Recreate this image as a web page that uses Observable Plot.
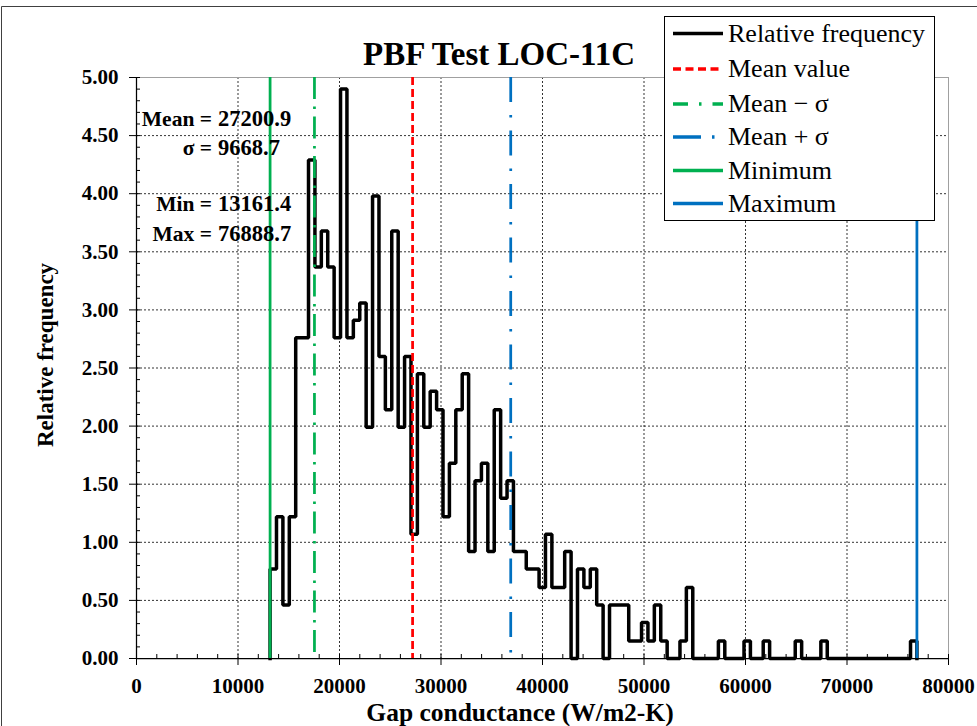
<!DOCTYPE html>
<html>
<head>
<meta charset="utf-8">
<script src="https://cdn.jsdelivr.net/npm/d3@7"></script>
<script src="https://cdn.jsdelivr.net/npm/@observablehq/plot@0.6"></script>
<style>
  body { margin: 0; background: #fff; }
  #wrap { position: relative; width: 977px; height: 726px; overflow: hidden; background: #fff; }
</style>
</head>
<body>
<div id="wrap"></div>
<script>
// ---------------- data ----------------
const chartTitle = "PBF Test LOC-11C";
const xTitle = "Gap conductance (W/m2-K)";
const yTitle = "Relative frequency";

const meanValue = 27200.9;
const sigmaValue = 9668.7;
const minValue = 13161.4;
const maxValue = 76888.7;

// relative frequency of each of the equal-width bins between min and max
const binValues = [
  0.77, 1.22, 0.46, 1.22, 2.76, 2.76, 4.29, 3.37, 3.68, 3.37,
  2.76, 4.90, 2.76, 2.91, 3.06, 1.99, 3.98, 2.60, 2.14, 3.68,
  1.99, 2.60, 1.07, 2.45, 1.99, 2.30, 2.14, 1.22, 1.68, 2.14,
  2.45, 0.92, 1.53, 1.68, 0.92, 2.14, 1.38, 1.53, 0.92, 0.92,
  0.77, 0.77, 0.61, 1.07, 0.61, 0.61, 0.92, 0.00, 0.77, 0.61,
  0.77, 0.46, 0.00, 0.46, 0.46, 0.46, 0.15, 0.15, 0.31, 0.15,
  0.46, 0.15, 0.00, 0.00, 0.15, 0.61, 0.00, 0.00, 0.00, 0.00,
  0.15, 0.00, 0.00, 0.00, 0.15, 0.00, 0.00, 0.15, 0.00, 0.00,
  0.00, 0.00, 0.15, 0.00, 0.00, 0.00, 0.15, 0.00, 0.00, 0.00,
  0.00, 0.00, 0.00, 0.00, 0.00, 0.00, 0.00, 0.00, 0.00, 0.00,
  0.15
];

const xTicks = [0, 10000, 20000, 30000, 40000, 50000, 60000, 70000, 80000];
const yTicks = [0, 0.5, 1, 1.5, 2, 2.5, 3, 3.5, 4, 4.5, 5];
const xMinorTicks = d3.range(0, 80001, 2000);
const yMinorTicks = d3.range(0, 50.5, 1).map(d => d / 10);

// statistics box: label part and value part
const annLabels = ["Mean =", "\u03c3 =", "Min =", "Max ="];
const annValues = ["27200.9", " 9668.7", " 13161.4", " 76888.7"];

const legendLabels = ["Relative frequency", "Mean value", "Mean \u2212 \u03c3", "Mean + \u03c3", "Minimum", "Maximum"];

// ---------------- styles ----------------
const RED = "#ff0000", GREEN = "#00b050", BLUE = "#0070c0";
const SERIF = "'Liberation Serif', 'Times New Roman', serif";

// step outline built from the bins
const binWidth = (maxValue - minValue) / binValues.length;
const stepPoints = [{x: minValue, y: 0}];
binValues.forEach((v, i) => {
  stepPoints.push({x: minValue + i * binWidth, y: v});
  stepPoints.push({x: minValue + (i + 1) * binWidth, y: v});
});
stepPoints.push({x: maxValue, y: 0});

const refLines = [
  {x: minValue, stroke: GREEN, dash: null},
  {x: meanValue - sigmaValue, stroke: GREEN, dash: "22,7.5,2.5,7.5"},
  {x: meanValue, stroke: RED, dash: "8,4"},
  {x: meanValue + sigmaValue, stroke: BLUE, dash: "25,13,2.5,13"},
  {x: maxValue, stroke: BLUE, dash: null}
];

const chart = Plot.plot({
  width: 977,
  height: 726,
  marginLeft: 136,
  marginRight: 29,
  marginTop: 77,
  marginBottom: 68,
  style: {fontFamily: SERIF, background: "transparent", color: "#000", overflow: "visible"},
  x: {domain: [0, 80000]},
  y: {domain: [0, 5]},
  marks: [
    Plot.gridX(xTicks.slice(1, -1), {stroke: "#000", strokeOpacity: 0.8, strokeDasharray: "2,2"}),
    Plot.gridY(yTicks.slice(1, -1), {stroke: "#000", strokeOpacity: 0.8, strokeDasharray: "2,2"}),
    Plot.frame({stroke: "#a0a0a0"}),
    Plot.line(stepPoints, {x: "x", y: "y", stroke: "#000", strokeWidth: 3.5, strokeLinejoin: "miter", strokeLinecap: "square"}),
    ...refLines.map(r => Plot.ruleX([r.x], {stroke: r.stroke, strokeWidth: 2.75, strokeDasharray: r.dash})),
    Plot.ruleX([0], {stroke: "#000", strokeWidth: 1.25}),
    Plot.ruleY([0], {stroke: "#000", strokeWidth: 1.25}),
    Plot.axisX(xTicks, {tickSize: 7, tickPadding: 13, tickFormat: d3.format("d"), fontSize: 21, fontWeight: "bold", label: null}),
    Plot.axisX(xMinorTicks, {tickSize: -4, tickFormat: () => "", label: null}),
    Plot.axisY(yTicks, {tickSize: 7, tickPadding: 11, tickFormat: d3.format(".2f"), fontSize: 21, fontWeight: "bold", label: null}),
    Plot.axisY(yMinorTicks, {tickSize: -4, tickFormat: () => "", label: null})
  ]
});

document.getElementById("wrap").appendChild(chart);
const svg = d3.select(chart);

// outer chart-area border (left and top)
svg.append("line").attr("x1", 1.5).attr("y1", 6.5).attr("x2", 977).attr("y2", 6.5).attr("stroke", "#404040");
svg.append("line").attr("x1", 1.5).attr("y1", 6.5).attr("x2", 1.5).attr("y2", 726).attr("stroke", "#404040");

function addText(parent, t, x, y, size, weight, anchor) {
  return parent.append("text").text(t).attr("x", x).attr("y", y)
    .attr("text-anchor", anchor)
    .style("font-family", SERIF).style("font-weight", weight).style("font-size", size + "px")
    .style("white-space", "pre").attr("fill", "#000");
}

// titles
addText(svg, chartTitle, 499, 65, 33, "bold", "middle");
addText(svg, xTitle, 520, 721, 25.5, "bold", "middle");
svg.append("text").text(yTitle)
  .attr("transform", "translate(53,355) rotate(-90)").attr("text-anchor", "middle")
  .style("font-family", SERIF).style("font-weight", "bold").style("font-size", "23px").attr("fill", "#000");

// statistics annotations: label right-aligned, value starting at a common column
const annY = [126, 155, 210.5, 240.5];
annLabels.forEach((lab, i) => {
  const t = svg.append("text")
    .style("font-family", SERIF).style("font-weight", "bold")
    .style("white-space", "pre").attr("fill", "#000").attr("y", annY[i]);
  t.append("tspan").attr("x", 212).attr("text-anchor", "end").style("font-size", "21.5px").text(lab);
  t.append("tspan").attr("x", annValues[i].startsWith(" ") ? 212.4 : 218).attr("text-anchor", "start")
    .style("font-size", "22.5px").text(annValues[i]);
});

// legend
const lg = svg.append("g");
lg.append("rect").attr("x", 664.5).attr("y", 16.5).attr("width", 270).attr("height", 204)
  .attr("fill", "#fff").attr("stroke", "#000").attr("stroke-width", 1);
const legendStyles = [
  {stroke: "#000", dash: null},
  {stroke: RED, dash: "8,4.5"},
  {stroke: GREEN, dash: "15,11,2.5,11"},
  {stroke: BLUE, dash: "28,11,2.5,20"},
  {stroke: GREEN, dash: null},
  {stroke: BLUE, dash: null}
];
const rowY = [33.5, 69, 104, 137, 170.5, 203.5];
legendLabels.forEach((lab, i) => {
  lg.append("line").attr("x1", 673).attr("x2", 723).attr("y1", rowY[i]).attr("y2", rowY[i])
    .attr("stroke", legendStyles[i].stroke).attr("stroke-width", 3.5)
    .attr("stroke-dasharray", legendStyles[i].dash);
  addText(lg, lab, 728, rowY[i] + 8, 26, "normal", "start");
});
</script>
</body>
</html>
